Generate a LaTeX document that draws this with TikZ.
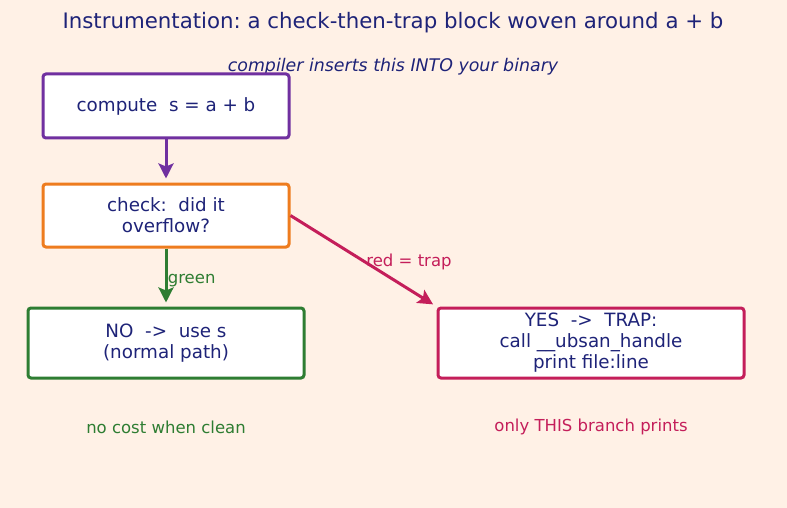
\documentclass[tikz,border=0pt]{standalone}
\usepackage{fontspec}
\setmainfont{DejaVu Sans}
\usetikzlibrary{positioning,arrows.meta}

\definecolor{bgpeach}{RGB}{255,241,230}
\definecolor{inkblue}{RGB}{30,35,120}
\definecolor{boxpurple}{RGB}{112,48,160}
\definecolor{boxorange}{RGB}{238,124,30}
\definecolor{boxgreen}{RGB}{46,125,50}
\definecolor{boxred}{RGB}{196,30,90}

\frenchspacing

\begin{document}
\begin{tikzpicture}[
x=1pt,y=-1pt,
box/.style={
draw,
line width=3pt,
rounded corners=3pt,
fill=white,
align=center,
text=inkblue,
font=\fontsize{18.3}{21}\selectfont
},
flow/.style={-{Stealth[length=15pt,width=15pt,inset=3pt]},line width=3pt,shorten >=4pt},
note/.style={font=\fontsize{16.5}{19}\selectfont}
]

\fill[bgpeach](0,0) rectangle (787,508);
\useasboundingbox (0,0) rectangle (787,508);

\node[text=inkblue,font=\fontsize{21.3}{24}\selectfont] (title) at (393,23){Instrumentation: a check-then-trap block woven around a + b};

\node[text=inkblue,font=\fontsize{17.4}{20}\selectfont\itshape] (subtitle) at (393,67){compiler inserts this INTO your binary};

\node[box,draw=boxpurple,minimum width=246pt,minimum height=64pt] (compute) at (166,106){compute\ \ s = a + b};

\node[box,draw=boxorange,minimum width=246pt,minimum height=63pt] (check) at (166,215.5){check:\ \ did it\\overflow?};

\node[box,draw=boxgreen,minimum width=276pt,minimum height=70pt] (normal) at (166,343){NO\ \ ->\ \ use s\\(normal path)};

\node[box,draw=boxred,minimum width=306pt,minimum height=70pt] (trap) at (591,343){YES\ \ ->\ \ TRAP:\\call \_\_ubsan\_handle\\print file:line};

\node[note,text=boxgreen] (cleannote) at (166,427){no cost when clean};
\node[note,text=boxred] (trapnote) at (591,427){only THIS branch prints};

\draw[flow,boxpurple](compute)--(check);
\draw[flow,boxgreen](check)--(normal) node[pos=0.55,right=-3pt,note,text=boxgreen]{green};
\draw[flow,boxred](check.east)--(trap.north west);

\node[note,text=boxred] (traplabel) at (409,262){red = trap};

\end{tikzpicture}
\end{document}
